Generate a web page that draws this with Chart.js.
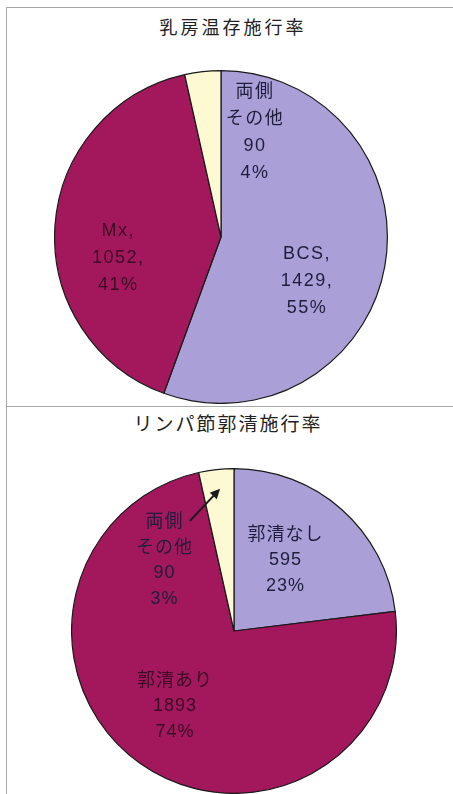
<!DOCTYPE html>
<html lang="ja">
<head>
<meta charset="utf-8">
<title>乳房温存施行率 / リンパ節郭清施行率</title>
<script src="https://cdn.jsdelivr.net/npm/chart.js@4.4.1/dist/chart.umd.min.js"></script>
<style>
    html, body { margin: 0; padding: 0; background: #fff; }
    body { width: 453px; height: 794px; position: relative; overflow: hidden; }
    .frame-top { position: absolute; left: 6px; top: 7px; right: -2px; height: 398px; border-left: 1px solid #a8a8a8; border-top: 1px solid #a8a8a8; border-bottom: 1px solid #a8a8a8; }
    .frame-bottom { position: absolute; left: 6px; top: 406px; width: 1px; height: 400px; background: #a8a8a8; }
    .title { position: absolute; font-family: "Noto Sans CJK JP", sans-serif; color: #222; white-space: nowrap; transform: translate(-50%, -50%); }
    .box { position: absolute; }
</style>
</head>
<body>
<div class="frame-top"></div>
<div class="frame-bottom"></div>

<div class="title" id="title1" style="left:233px; top:26px; font-size:18px; letter-spacing:3px;">乳房温存施行率</div>
<div class="title" id="title2" style="left:228px; top:422px; font-size:19px; letter-spacing:2px;">リンパ節郭清施行率</div>

<div class="box" style="left:54px; top:70px; width:334px; height:334px;"><canvas id="breastChart"></canvas></div>
<div class="box" style="left:71px; top:468px; width:326px; height:326px;"><canvas id="nodeChart"></canvas></div>

<script>
// Data
const breastLabels = ['BCS', 'Mx', '両側その他'];
const breastValues = [1429, 1052, 90];
const breastPercents = ['55%', '41%', '4%'];

const nodeLabels = ['郭清なし', '郭清あり', '両側その他'];
const nodeValues = [595, 1893, 90];
const nodePercents = ['23%', '74%', '3%'];

// Colours per slice
const sliceColors = ['#ab9fd8', '#a3175c', '#fdf9d2'];

// Text lines shown inside each slice
function breastText(i) {
    if (i === 2) return ['両側', 'その他', String(breastValues[i]), breastPercents[i]];
    return [breastLabels[i] + ',', breastValues[i] + ',', breastPercents[i]];
}

function nodeText(i) {
    if (i === 2) return ['両側', 'その他', String(nodeValues[i]), nodePercents[i]];
    return [nodeLabels[i], String(nodeValues[i]), nodePercents[i]];
}

function polar(arc, angleDeg, frac) {
    const a = angleDeg * Math.PI / 180;
    return {
        x: arc.x + Math.cos(a) * arc.outerRadius * frac,
        y: arc.y + Math.sin(a) * arc.outerRadius * frac
    };
}

// Draws the labels (and the arrow) on top of the slices
const sliceLabelPlugin = {
    id: 'sliceLabels',
    afterDatasetsDraw(chart, args, opts) {
        const ctx = chart.ctx;
        const arcs = chart.getDatasetMeta(0).data;
        ctx.save();
        ctx.font = '18px "Liberation Sans", "Noto Sans CJK JP", sans-serif';
        ctx.letterSpacing = opts.spacing + 'px';
        ctx.textAlign = 'center';
        ctx.textBaseline = 'middle';
        arcs.forEach((arc, i) => {
            const pos = opts.places[i];
            const p = polar(arc, pos.angle, pos.frac);
            const lines = opts.text(i);
            ctx.fillStyle = i === 1 ? '#3b0c26' : '#1e1e3c';
            lines.forEach((line, k) => {
                ctx.fillText(line, p.x, p.y + (k - (lines.length - 1) / 2) * opts.lineHeight);
            });
        });
        if (opts.arrow) {
            const arc = arcs[0];
            const from = polar(arc, opts.arrow.from[0], opts.arrow.from[1]);
            const to = polar(arc, opts.arrow.to[0], opts.arrow.to[1]);
            const ang = Math.atan2(to.y - from.y, to.x - from.x);
            ctx.strokeStyle = '#1a1a1a';
            ctx.fillStyle = '#1a1a1a';
            ctx.lineWidth = 2;
            ctx.beginPath();
            ctx.moveTo(from.x, from.y);
            ctx.lineTo(to.x - Math.cos(ang) * 8, to.y - Math.sin(ang) * 8);
            ctx.stroke();
            ctx.beginPath();
            ctx.moveTo(to.x, to.y);
            ctx.lineTo(to.x - Math.cos(ang - 0.45) * 11, to.y - Math.sin(ang - 0.45) * 11);
            ctx.lineTo(to.x - Math.cos(ang + 0.45) * 11, to.y - Math.sin(ang + 0.45) * 11);
            ctx.closePath();
            ctx.fill();
        }
        ctx.restore();
    }
};

function makePie(id, labels, values, labelOpts) {
    const ctx = document.getElementById(id);
    return new Chart(ctx.getContext('2d'), {
        type: 'pie',
        data: {
            labels: labels,
            datasets: [{
                data: values,
                backgroundColor: sliceColors,
                borderColor: '#1a1a1a',
                borderWidth: 1.2
            }]
        },
        options: {
            responsive: true,
            maintainAspectRatio: false,
            devicePixelRatio: 1,
            animation: false,
            layout: { padding: 0 },
            plugins: {
                legend: { display: false },
                tooltip: { enabled: false },
                title: { display: false },
                sliceLabels: labelOpts
            }
        },
        plugins: [sliceLabelPlugin]
    });
}

document.addEventListener('DOMContentLoaded', function() {
    makePie('breastChart', breastLabels, breastValues, {
        text: breastText,
        spacing: 1.5,
        lineHeight: 27,
        places: [
            { angle: 27, frac: 0.58 },
            { angle: 168.5, frac: 0.63 },
            { angle: -72, frac: 0.66 }
        ]
    });

    makePie('nodeChart', nodeLabels, nodeValues, {
        text: nodeText,
        spacing: 1,
        lineHeight: 25.5,
        places: [
            { angle: -54, frac: 0.54 },
            { angle: 128, frac: 0.59 },
            { angle: -134.6, frac: 0.61 }
        ],
        arrow: { from: [-111.8, 0.73], to: [-95.6, 0.88] }
    });
});
</script>
</body>
</html>
